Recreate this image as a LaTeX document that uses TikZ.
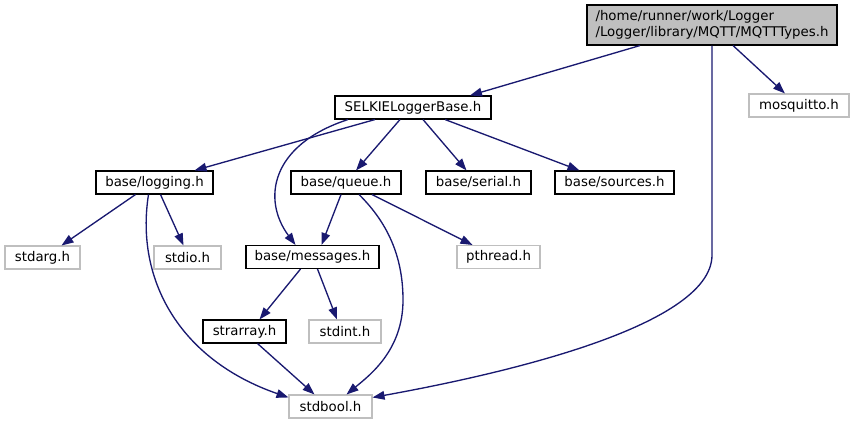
\documentclass[tikz,border=0pt]{standalone}
\usepackage{fontspec}
\setmainfont{DejaVu Sans}
\usetikzlibrary{arrows.meta,calc}
\definecolor{edgeblue}{HTML}{191970}
\definecolor{missgray}{HTML}{BFBFBF}

\begin{document}
\begin{tikzpicture}[x=0.75pt,y=-0.75pt,
  file/.style={draw=black,line width=0.8pt,minimum height=17.25pt,inner sep=0pt,
    font=\fontsize{10}{12}\selectfont},
  ext/.style={file,draw=missgray},
  wd/.style={minimum width=#1*0.75pt},
  inc/.style={edgeblue,line width=1pt,-{Triangle[length=9pt,width=6.5pt]}}]
  \useasboundingbox (0,0) rectangle (855,425);

  % files
  \node[file,fill=missgray,wd=250,minimum height=30pt,align=left] (types) at (712,25)
    {/home/runner/work/Logger\\/Logger/library/MQTT/MQTTTypes.h};
  \node[file,wd=156] (base) at (413,107.5) {SELKIELoggerBase.h};
  \node[ext,wd=100] (mosq) at (799,105.5) {mosquitto.h};
  \node[file,wd=117] (logging) at (154.5,182.5) {base/logging.h};
  \node[file,wd=110] (queue) at (346,182.5) {base/queue.h};
  \node[file,wd=105] (serial) at (478.5,182.5) {base/serial.h};
  \node[file,wd=119] (sources) at (614.5,182.5) {base/sources.h};
  \node[ext,wd=75] (stdarg) at (42.5,257.5) {stdarg.h};
  \node[ext,wd=67] (stdio) at (187.5,257.5) {stdio.h};
  \node[file,wd=133] (messages) at (312.5,257) {base/messages.h};
  \node[ext,wd=83] (pthread) at (498.5,257) {pthread.h};
  \node[file,wd=83] (strarray) at (244.5,331.5) {strarray.h};
  \node[ext,wd=72] (stdint) at (345,331.5) {stdint.h};
  \node[ext,wd=83] (stdbool) at (330.5,406.5) {stdbool.h};

  % includes
  \draw[inc] ($(types.south)+(-72,0)$) -- ($(base.north)+(57,0)$);
  \draw[inc] ($(types.south)+(21,0)$) -- ($(mosq.north)+(-14,0)$);
  \draw[inc] (types.south) -- (712,255) .. controls (712,330) and (480,378) .. ($(stdbool.north east)+(0,3)$);
  \draw[inc] ($(base.south)+(-38,0)$) -- ($(logging.north)+(40,0)$);
  \draw[inc] ($(base.south)+(-65,0)$) .. controls (270,145) and (262,200) .. ($(messages.north)+(-17,0)$);
  \draw[inc] ($(base.south)+(-13,0)$) -- ($(queue.north)+(10,0)$);
  \draw[inc] ($(base.south)+(10,0)$) -- ($(serial.north)+(-12,0)$);
  \draw[inc] ($(base.south)+(32,0)$) -- ($(sources.north)+(-35,0)$);
  \draw[inc] ($(logging.south)+(-19,0)$) -- ($(stdarg.north)+(19,0)$);
  \draw[inc] ($(logging.south)+(6,0)$) -- ($(stdio.north)+(-4,0)$);
  \draw[inc] ($(logging.south)+(-6,0)$) .. controls (135,280) and (180,360) .. ($(stdbool.north west)+(0,3)$);
  \draw[inc] ($(queue.south)+(-5,0)$) -- ($(messages.north)+(9,0)$);
  \draw[inc] ($(queue.south)+(26,0)$) -- ($(pthread.north)+(-26,0)$);
  \draw[inc] ($(queue.south)+(13,0)$) .. controls (390,225) and (403,260) .. (403,300)
    .. controls (403,350) and (370,375) .. ($(stdbool.north)+(16,0)$);
  \draw[inc] ($(messages.south)+(-12,0)$) -- ($(strarray.north)+(15,0)$);
  \draw[inc] ($(messages.south)+(5,0)$) -- ($(stdint.north)+(-8,0)$);
  \draw[inc] ($(strarray.south)+(13,0)$) -- ($(stdbool.north)+(-16,0)$);
\end{tikzpicture}
\end{document}
